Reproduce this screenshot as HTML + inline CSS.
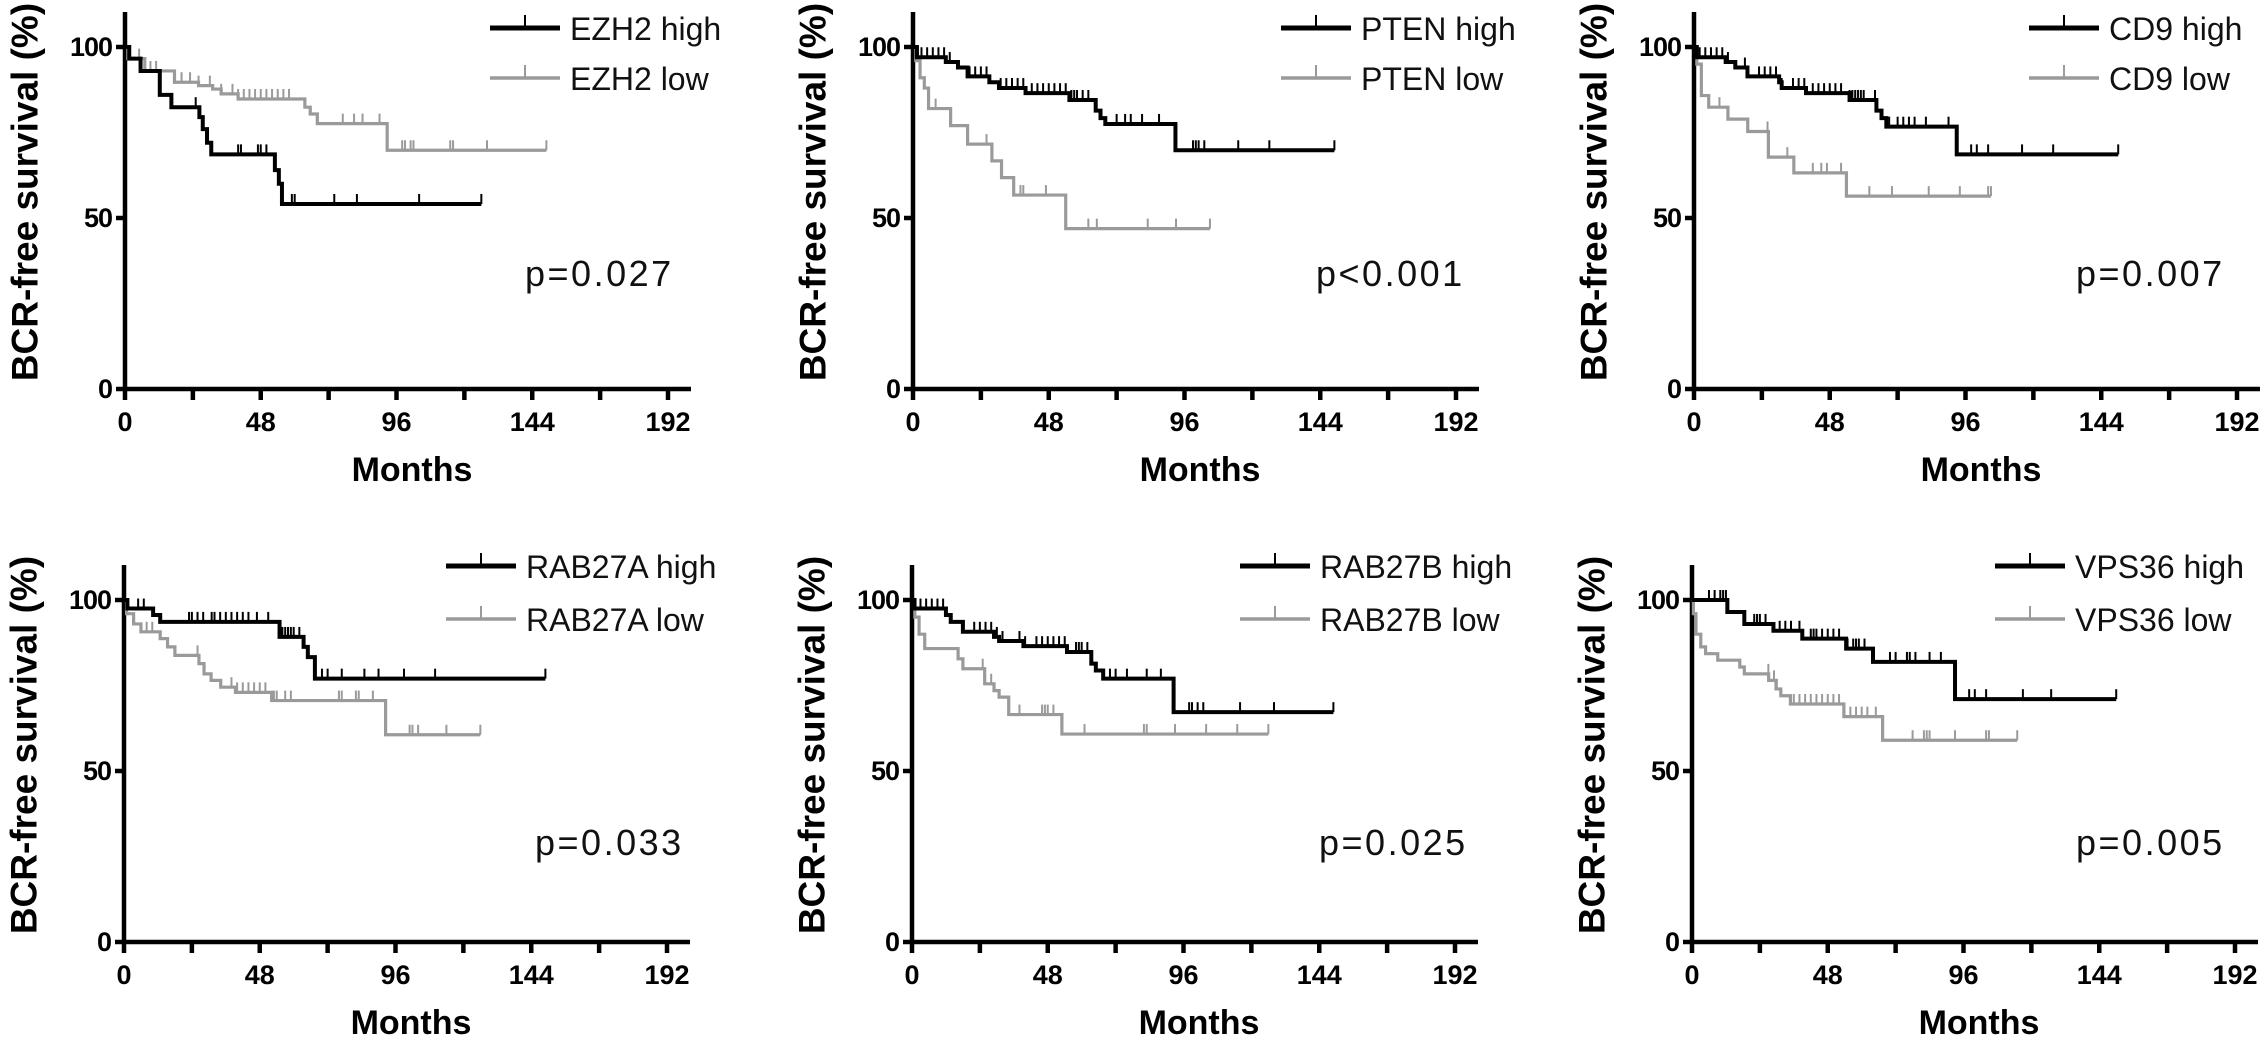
<!DOCTYPE html>
<html><head><meta charset="utf-8">
<style>
html,body{margin:0;padding:0;background:#fff;}
svg{display:block;font-family:"Liberation Sans",Arial,sans-serif;}
</style></head>
<body>
<svg id="fig" width="2268" height="1046" viewBox="0 0 2268 1046" xmlns="http://www.w3.org/2000/svg"></svg>
<script>
// ---- Chart data (months, survival %) ----
const xTicks = [0, 48, 96, 144, 192];
const xMinor = [24, 72, 120, 168];
const yTicks = [0, 50, 100];

const ezh2HighT = [0, 1.5, 5.5, 12.3, 16.4, 26.3, 27.5, 29, 30.5, 53, 54.4, 55.5];
const ezh2HighS = [100, 96.6, 93, 86, 82.4, 79.5, 76, 72, 68.6, 64, 60, 54.1];
const ezh2HighEnd = 126;
const ezh2HighC = [25, 40, 41, 47, 48, 50, 59, 60, 74, 82, 104, 126];
const ezh2LowT = [0, 1, 7, 17.5, 26, 31, 34, 40, 63.6, 65.5, 68, 92.7];
const ezh2LowS = [100, 96.6, 93, 89.7, 88.7, 87.7, 86.3, 84.8, 82.4, 80.4, 77.6, 69.8];
const ezh2LowEnd = 149;
const ezh2LowC = [5, 7, 9, 11, 20, 23, 26, 30, 34, 38, 40, 42, 44, 46, 48, 50, 52, 54, 56, 58, 77, 81, 84, 90, 98, 99, 101, 102, 115, 116, 128, 149];

const ptenHighT = [0, 1.4, 11.6, 15.9, 19.3, 27, 30.4, 39.8, 55.3, 64.6, 66.3, 68, 92.8];
const ptenHighS = [100, 97, 95.6, 94, 91.4, 89.7, 88, 86.5, 84.5, 81.4, 79.2, 77.5, 69.8];
const ptenHighEnd = 149;
const ptenHighC = [3, 5, 7, 9, 11, 13, 20, 22, 24, 26, 31, 33, 35, 37, 39, 42, 44, 46, 48, 50, 52, 54, 56, 57, 58, 60, 62, 72, 75, 77, 81, 87, 99, 100, 101, 103, 115, 126, 149];
const ptenLowT = [0, 1, 2.5, 4, 5.5, 13.3, 19.3, 27.9, 31.3, 35.6, 54];
const ptenLowS = [100, 96, 91, 88, 82, 77, 71.6, 66.7, 61.8, 56.7, 46.9];
const ptenLowEnd = 105;
const ptenLowC = [8, 26, 38, 39, 47, 62, 65, 83, 93, 105];

const cd9HighT = [0, 1, 11.2, 14.6, 18.9, 30.1, 31, 39.6, 55, 64.5, 66.3, 68, 92.9];
const cd9HighS = [100, 97, 95.6, 94, 91.4, 89.7, 88, 86.5, 84.5, 81.4, 79.2, 76.7, 68.6];
const cd9HighEnd = 150;
const cd9HighC = [2, 4, 6, 8, 10, 12, 18, 23, 25, 27, 29, 31, 35, 37, 39, 42, 44, 46, 48, 50, 52, 55, 56, 57, 58, 59, 60, 64, 69, 72, 74, 76, 78, 82, 90, 98, 100, 104, 116, 127, 150];
const cd9LowT = [0, 1, 2.6, 5.2, 12, 19, 26.3, 35.3, 53.9];
const cd9LowS = [100, 95, 85.8, 82.4, 78.9, 75.3, 67.8, 63.2, 56.4];
const cd9LowEnd = 105;
const cd9LowC = [9, 26, 33, 42, 45, 47, 52, 62, 70, 83, 94, 104, 105];

const rabaHighT = [0, 1.2, 10.3, 12.8, 55, 63.5, 65, 67.5];
const rabaHighS = [100, 97.5, 95.6, 93.6, 89.2, 86.3, 83.3, 77];
const rabaHighEnd = 149;
const rabaHighC = [5, 7, 23, 24, 26, 28, 31, 32, 34, 36, 38, 40, 42, 44, 47, 51, 56, 57, 58, 59, 60, 62, 70, 72, 77, 85, 90, 99, 110, 149];
const rabaLowT = [0, 0.9, 3.4, 6, 12.8, 15.4, 18, 26.5, 28.3, 30.8, 34.2, 39.4, 52.2, 92.5];
const rabaLowS = [100, 96, 93, 90.7, 88.7, 86.3, 83.8, 81.4, 78.4, 76.5, 74.5, 73, 70.6, 60.6];
const rabaLowEnd = 126;
const rabaLowC = [8, 10, 26, 38, 40, 42, 44, 46, 48, 50, 53, 54, 57, 59, 76, 77, 82, 83, 88, 101, 102, 104, 114, 126];

const rabbHighT = [0, 0.9, 12, 13.7, 18, 29, 30.8, 39.4, 54.8, 63.4, 65, 67.6, 92.5];
const rabbHighS = [100, 97.5, 95.6, 93.6, 90.7, 89.2, 88, 86.5, 84.8, 81.4, 79.4, 77, 67.2];
const rabbHighEnd = 149;
const rabbHighC = [3, 5, 7, 9, 11, 18, 22, 24, 26, 28, 30, 32, 38, 40, 44, 46, 48, 50, 52, 54, 58, 59, 60, 62, 70, 72, 76, 83, 88, 98, 99, 101, 103, 116, 128, 149];
const rabbLowT = [0, 1, 2.5, 4.5, 16.3, 18, 25.7, 29, 30.8, 34.2, 53];
const rabbLowS = [100, 95, 90, 85.8, 82.8, 79.9, 75.5, 73.5, 71.6, 66.5, 60.8];
const rabbLowEnd = 126;
const rabbLowC = [25, 28, 38, 46, 47, 48, 50, 61, 82, 83, 93, 104, 115, 126];

const vpsHighT = [0, 12.5, 18.5, 28.8, 39, 54.5, 64, 93];
const vpsHighS = [100, 96.5, 93, 91, 88.7, 85.8, 81.9, 71];
const vpsHighEnd = 150;
const vpsHighC = [6, 8, 10, 11, 12, 22, 23, 24, 26, 31, 33, 35, 38, 42, 43, 44, 46, 48, 50, 52, 55, 57, 58, 59, 61, 70, 72, 76, 77, 79, 84, 88, 98, 100, 104, 117, 127, 150];
const vpsLowT = [0, 0.5, 1.4, 3.1, 4.8, 9.1, 16.9, 18.5, 27.1, 29.7, 31.4, 34.8, 53.7, 67.4];
const vpsLowS = [100, 96, 90, 86.3, 84.3, 82.4, 80.4, 78.4, 76.5, 74, 72, 69.6, 65.9, 59];
const vpsLowEnd = 115;
const vpsLowC = [27, 29, 30, 36, 38, 40, 42, 44, 46, 48, 50, 52, 56, 58, 60, 62, 65, 78, 82, 83, 84, 93, 104, 105, 115];

const panels = [
  {id:'ezh2', gene:'EZH2', p:'p=0.027', ax:125, y0:389, legX:490, legY:[28,78], pX:525, pY:273,
   hi:[ezh2HighT, ezh2HighS, ezh2HighEnd, ezh2HighC], lo:[ezh2LowT, ezh2LowS, ezh2LowEnd, ezh2LowC]},
  {id:'pten', gene:'PTEN', p:'p<0.001', ax:913, y0:389, legX:1281, legY:[28,78], pX:1316, pY:273,
   hi:[ptenHighT, ptenHighS, ptenHighEnd, ptenHighC], lo:[ptenLowT, ptenLowS, ptenLowEnd, ptenLowC]},
  {id:'cd9', gene:'CD9', p:'p=0.007', ax:1694, y0:389, legX:2029, legY:[28,78], pX:2076, pY:273,
   hi:[cd9HighT, cd9HighS, cd9HighEnd, cd9HighC], lo:[cd9LowT, cd9LowS, cd9LowEnd, cd9LowC]},
  {id:'rab27a', gene:'RAB27A', p:'p=0.033', ax:124, y0:942, legX:446, legY:[566,619], pX:535, pY:842,
   hi:[rabaHighT, rabaHighS, rabaHighEnd, rabaHighC], lo:[rabaLowT, rabaLowS, rabaLowEnd, rabaLowC]},
  {id:'rab27b', gene:'RAB27B', p:'p=0.025', ax:912, y0:942, legX:1240, legY:[566,619], pX:1319, pY:842,
   hi:[rabbHighT, rabbHighS, rabbHighEnd, rabbHighC], lo:[rabbLowT, rabbLowS, rabbLowEnd, rabbLowC]},
  {id:'vps36', gene:'VPS36', p:'p=0.005', ax:1692, y0:942, legX:1995, legY:[566,619], pX:2076, pY:842,
   hi:[vpsHighT, vpsHighS, vpsHighEnd, vpsHighC], lo:[vpsLowT, vpsLowS, vpsLowEnd, vpsLowC]}
];

const NS = 'http://www.w3.org/2000/svg';
const svg = document.getElementById('fig');
function mk(tag, attrs, parent, text){
  const e = document.createElementNS(NS, tag);
  for (const k in attrs) e.setAttribute(k, attrs[k]);
  if (text !== undefined) e.textContent = text;
  parent.appendChild(e);
  return e;
}
const XW = 543, YH = 342;
function survAt(T, S, t){ let v = S[0]; for (let i=0;i<T.length;i++){ if (T[i] <= t) v = S[i]; } return v; }

panels.forEach(P => {
  const sx = m => P.ax + m * XW / 192;
  const sy = v => P.y0 - v * YH / 100;
  const g = mk('g', {}, svg);
  
  

  const yt = mk('text', {x:0, y:0, transform:`translate(${P.ax-100},${P.y0-197}) rotate(-90)`, 'text-anchor':'middle', 'dominant-baseline':'central', 'font-size':37, 'font-weight':'bold'}, g, 'BCR-free survival (%)');
  
  
  const xt = mk('text', {x:P.ax+287, y:P.y0+92, 'text-anchor':'middle', 'font-size':34, 'font-weight':'bold'}, g, 'Months');
  
  

  const axG = mk('g', {stroke:'#000', 'stroke-width':4.5}, g);
  
  
  mk('line', {x1:P.ax, y1:P.y0+2, x2:P.ax, y2:P.y0-377}, axG);
  mk('line', {x1:P.ax-2, y1:P.y0, x2:P.ax+566, y2:P.y0}, axG);
  xTicks.forEach(t => {
    mk('line', {x1:sx(t), y1:P.y0, x2:sx(t), y2:P.y0+11}, axG);
    const lb = mk('text', {x:sx(t), y:P.y0+42, 'text-anchor':'middle', 'font-size':27, 'font-weight':'bold', stroke:'none'}, g, String(t));
    
    
  });
  xMinor.forEach(t => { mk('line', {x1:sx(t), y1:P.y0, x2:sx(t), y2:P.y0+11}, axG); });
  yTicks.forEach(v => {
    mk('line', {x1:P.ax-9, y1:sy(v), x2:P.ax, y2:sy(v)}, axG);
    const lb = mk('text', {x:P.ax-13, y:sy(v)+9, 'text-anchor':'end', 'font-size':27, 'font-weight':'bold', stroke:'none', 'letter-spacing':'-1'}, g, String(v));
    
    
  });

  [['lo','#9a9a9a',3.2,'low'],['hi','#000',4,'high']].forEach(([key,col,w,lab]) => {
    const [T,S,end,C] = P[key];
    let d = `M${sx(T[0])},${sy(S[0])}`;
    for (let i=1;i<T.length;i++){ d += ` H${sx(T[i])} V${sy(S[i])}`; }
    d += ` H${sx(end)}`;
    const path = mk('path', {d:d, fill:'none', stroke:col, 'stroke-width':w}, g);
    
    
    C.forEach(t => {
      const v = survAt(T, S, t);
      const c = mk('line', {x1:sx(t), y1:sy(v), x2:sx(t), y2:sy(v)-10, stroke:col, 'stroke-width':2}, g);
      
      
    });
    const ly = P.legY[key==='hi'?0:1];
    const le = mk('g', {}, g);
    
    
    mk('line', {x1:P.legX, y1:ly, x2:P.legX+70, y2:ly, stroke:col, 'stroke-width':key==='hi'?5:3.5}, le);
    mk('line', {x1:P.legX+35, y1:ly, x2:P.legX+35, y2:ly-13, stroke:col, 'stroke-width':2}, le);
    mk('text', {x:P.legX+80, y:ly+12, 'font-size':32, fill:'#111'}, le, P.gene + ' ' + lab);
  });

  const pv = mk('text', {x:P.pX, y:P.pY+13, 'font-size':36, fill:'#111', 'letter-spacing':'2.5'}, g, P.p);
  
  
});
</script>
</body></html>
